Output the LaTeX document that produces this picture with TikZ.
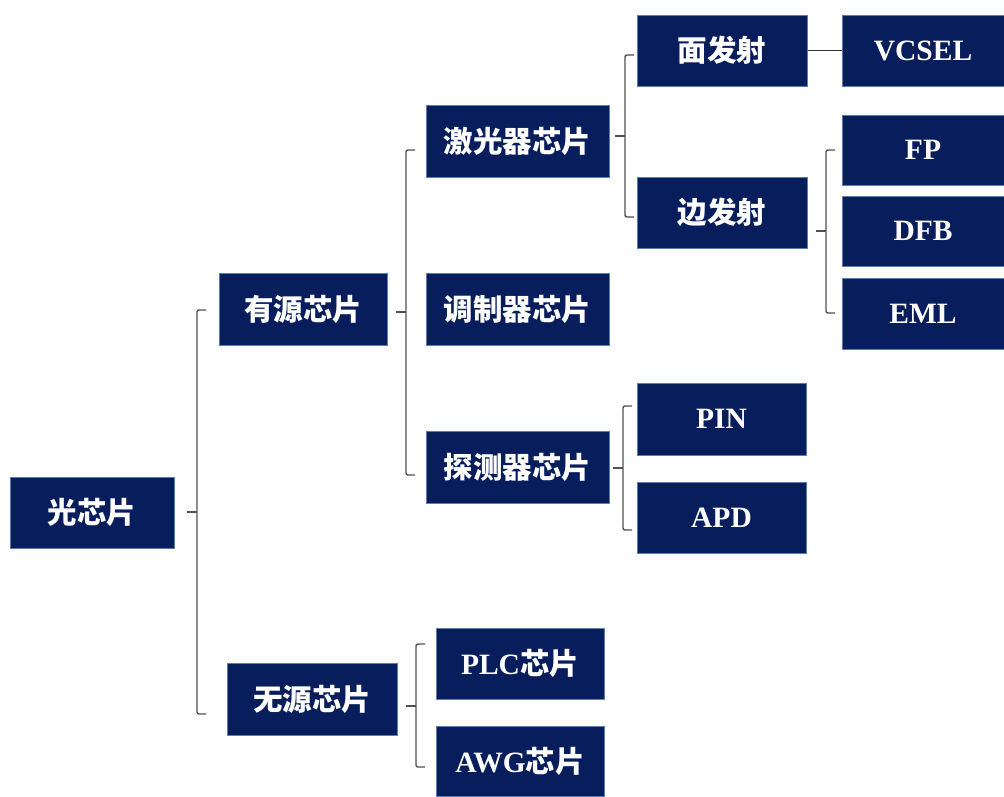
\documentclass[tikz,border=0pt]{standalone}
\usepackage{fontspec}
\setmainfont{Liberation Serif}
\newfontfamily\cjk{Noto Sans CJK SC}
\usetikzlibrary{calc}
\definecolor{navy}{RGB}{8,30,92}
\definecolor{edge}{RGB}{90,125,175}
\definecolor{brk}{RGB}{80,80,80}
\tikzset{
  box/.style={fill=navy,draw=edge,line width=1pt,text=white,inner sep=0pt,
    font=\fontsize{29.5}{32}\selectfont\bfseries},
  brace/.style={draw=brk,line width=1.4pt,rounded corners=2pt},
  link/.style={draw=black!80,line width=1pt}
}
\newcommand{\zh}[1]{{\cjk\fontsize{29.5}{32}\selectfont\bfseries #1}}
\begin{document}
\begin{tikzpicture}[x=1pt,y=-1pt]
\useasboundingbox (0,0) rectangle (1004,796);
\node[box,minimum width=164pt,minimum height=71pt] (gx) at (92,512.5) {\zh{光芯片}};
\node[box,minimum width=168pt,minimum height=72pt] (ys) at (303,309) {\zh{有源芯片}};
\node[box,minimum width=170pt,minimum height=72pt] (ws) at (312,699) {\zh{无源芯片}};
\node[box,minimum width=183pt,minimum height=72pt] (jg) at (517.5,141) {\zh{激光器芯片}};
\node[box,minimum width=183pt,minimum height=72pt] (tz) at (517.5,309) {\zh{调制器芯片}};
\node[box,minimum width=183pt,minimum height=72pt] (tc) at (517.5,467) {\zh{探测器芯片}};
\node[box,minimum width=170pt,minimum height=71pt] (mf) at (722,50.5) {\zh{面发射}};
\node[box,minimum width=170pt,minimum height=71pt] (bf) at (722,212.5) {\zh{边发射}};
\node[box,minimum width=162pt,minimum height=71pt] (vcsel) at (923,50.5) {VCSEL};
\node[box,minimum width=162pt,minimum height=70pt] (fp) at (923,150) {FP};
\node[box,minimum width=162pt,minimum height=70pt] (dfb) at (923,231) {DFB};
\node[box,minimum width=162pt,minimum height=71pt] (eml) at (923,313.5) {EML};
\node[box,minimum width=169pt,minimum height=72pt] (pin) at (721.5,419) {PIN};
\node[box,minimum width=169pt,minimum height=71pt] (apd) at (721.5,517.5) {APD};
\node[box,minimum width=168pt,minimum height=71pt] (plc) at (520,663.5) {PLC\zh{芯片}};
\node[box,minimum width=168pt,minimum height=70pt] (awg) at (520,761) {AWG\zh{芯片}};
% braces: #1 x, #2 top, #3 bottom, #4 mid
\newcommand{\mybrace}[4]{%
  \draw[brace] (#1+9,#2) -- (#1,#2) -- (#1,#3) -- (#1+9,#3);
  \draw[brk,line width=1.4pt] (#1,#4) -- (#1-10,#4);}
\mybrace{197}{310}{714}{512}
\mybrace{406}{150}{475}{312}
\mybrace{625}{55}{217}{136}
\mybrace{826}{150}{313}{231}
\mybrace{623}{406}{530}{468}
\mybrace{416}{644}{767}{706}
\draw[link] (mf.east) -- (vcsel.west);
\end{tikzpicture}
\end{document}
